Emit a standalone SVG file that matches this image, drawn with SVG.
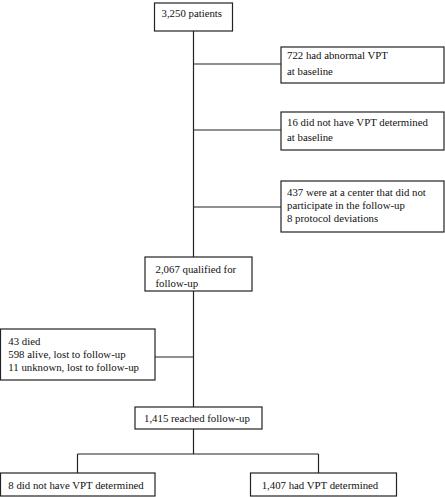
<svg xmlns="http://www.w3.org/2000/svg" width="445" height="497" viewBox="0 0 445 497">
<style>
rect{fill:#fff;stroke:#222;stroke-width:1.2}
text{font-size:10.8px;fill:#111}
.c{fill:none;stroke:#222;stroke-width:1.2}
</style>
<rect x="0" y="0" width="445" height="497" style="stroke:none"/>
<g id="connectors">
<path class="c" d="M193.5 31 V257 M193.5 64 H281 M193.5 130 H281 M193.5 207 H281 M193.5 291 V407 M155 357 H193.5 M193.5 429 V454 M77.5 454 H318.5 M77.5 454 V473 M318.5 454 V473"/>
</g>
<g id="n1" font-family="Liberation Serif"><rect x="154.5" y="3" width="78" height="28"/><text x="161.5" y="17">3,250 patients</text></g>
<g id="n2" font-family="Liberation Serif"><rect x="281" y="47" width="163" height="36"/><text x="287" y="59">722 had abnormal VPT</text><text x="287" y="74.5">at baseline</text></g>
<g id="n3" font-family="Liberation Serif"><rect x="281" y="112" width="163" height="38"/><text x="287" y="125.5">16 did not have VPT determined</text><text x="287" y="140.5">at baseline</text></g>
<g id="n4" font-family="Liberation Serif"><rect x="281" y="181" width="163" height="51"/><text x="287" y="195.5">437 were at a center that did not</text><text x="287" y="208.5">participate in the follow-up</text><text x="287" y="221.5">8 protocol deviations</text></g>
<g id="n5" font-family="Liberation Serif"><rect x="145" y="257" width="107" height="34"/><text x="155.5" y="272.7">2,067 qualified for</text><text x="155.5" y="286.7">follow-up</text></g>
<g id="n6" font-family="Liberation Serif"><rect x="0.5" y="329" width="154.5" height="51"/><text x="8.3" y="344.5">43 died</text><text x="8.3" y="357.5">598 alive, lost to follow-up</text><text x="8.3" y="370.5">11 unknown, lost to follow-up</text></g>
<g id="n7" font-family="Liberation Serif"><rect x="135" y="407" width="127" height="22"/><text x="144" y="422">1,415 reached follow-up</text></g>
<g id="n8" font-family="Liberation Serif"><rect x="0.5" y="473" width="154.5" height="23"/><text x="8.3" y="488.7">8 did not have VPT determined</text></g>
<g id="n9" font-family="Liberation Serif"><rect x="250.5" y="473" width="146" height="23"/><text x="261.7" y="488.7">1,407 had VPT determined</text></g>
</svg>
